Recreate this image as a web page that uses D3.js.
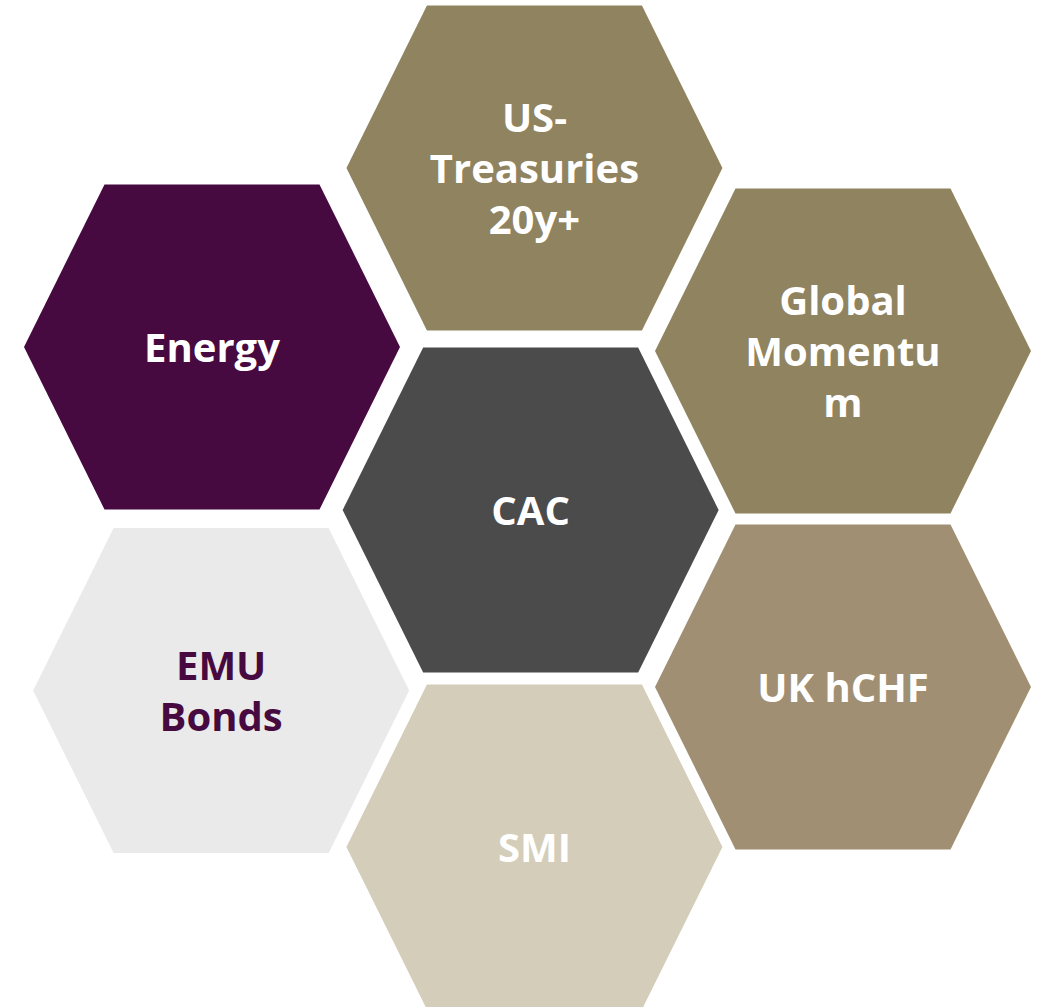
<!DOCTYPE html>
<html>
  <head>
    <meta charset="utf-8" />
    <title>Hexagons</title>
    <style>
      body {
        margin: 0;
        background: #ffffff;
      }
      .hex-label {
        font-family: "Open Sans", "Noto Sans", sans-serif;
        font-weight: 700;
        font-size: 40px;
      }
    </style>
    <script src="https://d3js.org/d3.v7.min.js"></script>
  </head>
  <body>
    <div id="chart"></div>
    <script>
      // labels, one entry per text line (wrapped as in the original)
      var labels = [
        ["US-", "Treasuries", "20y+"],
        ["Energy"],
        ["Global", "Momentu", "m"],
        ["CAC"],
        ["EMU", "Bonds"],
        ["UK hCHF"],
        ["SMI"]
      ];
      // hex grid coordinates
      var gridCol = [1.022, 0, 2, 1.01, 0.029, 2, 1.022];
      var gridRow = [0, 1.054, 1.078, 2.015, 3.078, 3.057, 4];

      var width = 1043, height = 1007;

      // hexagon shape: half width, half of top edge, half height
      var hw = 188, ha = 107.5, hh = 162.5;

      var x = d3.scaleLinear().domain([0, 2]).range([212, 843]);
      var y = d3.scaleLinear().domain([0, 4]).range([168, 847]);

      var fill = d3.scaleOrdinal()
        .domain(labels.map(function(d) { return d.join(" "); }))
        .range(["#8f8360", "#470a40", "#8f8360", "#4b4b4b", "#eaeaea", "#a08f73", "#d4cdba"]);
      var textFill = function(name) {
        return name === "EMU Bonds" ? "#470a40" : "#ffffff";
      };

      var data = labels.map(function(l, i) {
        return { name: l.join(" "), lines: l, col: gridCol[i], row: gridRow[i] };
      });

      var hexLine = d3.line();
      var hexPoints = [[-hw, 0], [-ha, -hh], [ha, -hh], [hw, 0], [ha, hh], [-ha, hh]];

      var svg = d3.select("#chart").append("svg")
        .attr("width", width)
        .attr("height", height);

      var g = svg.selectAll("g.hex")
        .data(data)
        .enter().append("g")
        .attr("class", "hex")
        .attr("transform", function(d) { return "translate(" + x(d.col) + "," + y(d.row) + ")"; });

      g.append("path")
        .attr("d", hexLine(hexPoints) + "Z")
        .attr("fill", function(d) { return fill(d.name); });

      var lineH = 51;
      g.append("text")
        .attr("class", "hex-label")
        .attr("text-anchor", "middle")
        .attr("fill", function(d) { return textFill(d.name); })
        .each(function(d) {
          var t = d3.select(this);
          var n = d.lines.length;
          d.lines.forEach(function(s, k) {
            t.append("tspan")
              .attr("x", 0)
              .attr("y", (k - (n - 1) / 2) * lineH + 15)
              .text(s);
          });
        });
    </script>
  </body>
</html>
